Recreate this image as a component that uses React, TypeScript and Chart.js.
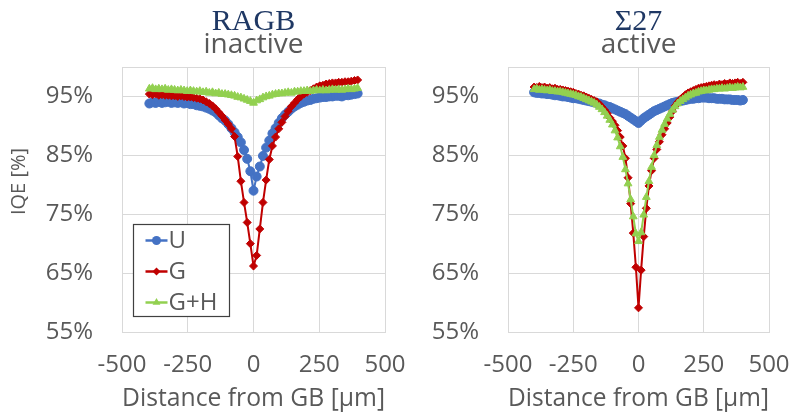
import React, { useEffect, useRef } from 'react';
import { Chart, registerables } from 'chart.js';

Chart.register(...registerables);

// ---------- data ----------
const seriesNames = ['U', 'G', 'G+H'];
const xTicks = [-500, -250, 0, 250, 500];
const yTicks = [55, 65, 75, 85, 95];

// RAGB (inactive) panel
const leftX = [-396, -384, -372, -360, -348, -336, -324, -312, -300, -288, -276, -264, -252, -240, -228, -216, -204, -192, -180, -168, -156, -144, -132, -120, -108, -96, -84, -72, -60, -48, -36, -24, -12, 0, 12, 24, 36, 48, 60, 72, 84, 96, 108, 120, 132, 144, 156, 168, 180, 192, 204, 216, 228, 240, 252, 264, 276, 288, 300, 312, 324, 336, 348, 360, 372, 384, 396];
const leftU = [93.8, 94.0, 93.9, 94.1, 93.9, 94.0, 94.1, 93.9, 94.0, 93.9, 94.0, 93.8, 93.9, 93.7, 93.7, 93.5, 93.4, 93.3, 93.1, 92.9, 92.6, 92.3, 91.8, 91.3, 90.9, 90.3, 89.6, 88.9, 88.1, 87.2, 85.9, 84.4, 82.3, 79.0, 81.4, 83.1, 84.9, 86.3, 87.5, 88.7, 89.6, 90.5, 91.3, 91.9, 92.4, 92.9, 93.3, 93.6, 93.9, 94.1, 94.3, 94.4, 94.6, 94.7, 94.8, 94.9, 94.9, 95.0, 95.0, 95.1, 95.1, 95.0, 95.2, 95.2, 95.3, 95.4, 95.5];
const leftG = [95.4, 95.3, 95.4, 95.2, 95.3, 95.2, 95.2, 95.1, 95.1, 95.0, 95.1, 95.0, 94.9, 94.9, 94.8, 94.7, 94.6, 94.4, 94.1, 93.8, 93.4, 92.9, 92.3, 91.7, 91.0, 90.3, 89.5, 88.2, 84.8, 80.6, 77.0, 73.6, 70.0, 66.2, 68.0, 72.5, 77.0, 80.8, 84.3, 86.6, 88.1, 89.5, 90.6, 91.6, 92.5, 93.3, 93.9, 94.5, 95.0, 95.4, 95.7, 96.0, 96.3, 96.6, 96.8, 96.9, 97.1, 97.2, 97.3, 97.3, 97.4, 97.4, 97.5, 97.5, 97.6, 97.7, 97.8];
const leftGH = [96.3, 96.4, 96.2, 96.3, 96.2, 96.3, 96.1, 96.2, 96.1, 96.0, 96.1, 96.0, 95.9, 96.0, 95.9, 95.8, 95.9, 95.7, 95.8, 95.6, 95.7, 95.5, 95.6, 95.4, 95.4, 95.3, 95.2, 95.1, 94.9, 94.8, 94.6, 94.4, 94.2, 93.9, 94.3, 94.5, 94.8, 95.0, 95.1, 95.3, 95.4, 95.5, 95.5, 95.6, 95.7, 95.6, 95.8, 95.8, 95.9, 95.9, 96.0, 95.9, 96.0, 96.1, 96.0, 96.1, 96.0, 96.1, 96.2, 96.1, 96.2, 96.1, 96.2, 96.3, 96.2, 96.3, 96.4];

// Σ27 (active) panel
const rightX = [-400, -390, -380, -370, -360, -350, -340, -330, -320, -310, -300, -290, -280, -270, -260, -250, -240, -230, -220, -210, -200, -190, -180, -170, -160, -150, -140, -130, -120, -110, -100, -90, -80, -70, -60, -50, -40, -30, -20, -10, 0, 10, 20, 30, 40, 50, 60, 70, 80, 90, 100, 110, 120, 130, 140, 150, 160, 170, 180, 190, 200, 210, 220, 230, 240, 250, 260, 270, 280, 290, 300, 310, 320, 330, 340, 350, 360, 370, 380, 390, 400];
const rightU = [95.7, 95.6, 95.6, 95.5, 95.5, 95.4, 95.4, 95.3, 95.2, 95.2, 95.1, 95.0, 95.0, 94.9, 94.8, 94.7, 94.7, 94.6, 94.5, 94.4, 94.3, 94.2, 94.1, 94.0, 93.9, 93.8, 93.6, 93.5, 93.3, 93.2, 93.0, 92.8, 92.6, 92.4, 92.2, 92.0, 91.7, 91.4, 91.1, 90.8, 90.5, 90.9, 91.3, 91.6, 91.9, 92.2, 92.5, 92.7, 92.9, 93.1, 93.3, 93.5, 93.7, 93.9, 94.0, 94.1, 94.2, 94.3, 94.4, 94.5, 94.6, 94.6, 94.7, 94.7, 94.8, 94.8, 94.8, 94.7, 94.7, 94.7, 94.6, 94.6, 94.6, 94.5, 94.5, 94.5, 94.4, 94.4, 94.4, 94.3, 94.4];
const rightG = [96.6, 96.5, 96.7, 96.5, 96.6, 96.4, 96.5, 96.3, 96.4, 96.2, 96.2, 96.1, 96.0, 95.9, 95.8, 95.7, 95.5, 95.4, 95.2, 95.1, 94.9, 94.7, 94.5, 94.3, 94.1, 93.7, 93.2, 92.7, 92.1, 91.4, 90.8, 90.1, 89.2, 88.1, 86.6, 84.5, 81.2, 76.8, 71.8, 66.0, 59.1, 65.5, 71.2, 76.0, 79.8, 82.4, 84.5, 86.0, 87.3, 88.5, 89.5, 90.5, 91.5, 92.5, 93.4, 94.0, 94.5, 94.9, 95.3, 95.6, 95.8, 96.0, 96.2, 96.4, 96.5, 96.6, 96.7, 96.8, 96.9, 97.0, 96.9, 97.1, 97.0, 97.2, 97.1, 97.3, 97.2, 97.3, 97.4, 97.2, 97.4];
const rightGH = [96.2, 96.3, 96.1, 96.2, 96.1, 96.0, 96.1, 95.9, 95.9, 95.8, 95.8, 95.7, 95.6, 95.5, 95.4, 95.3, 95.2, 95.0, 94.9, 94.7, 94.5, 94.3, 94.1, 93.9, 93.6, 93.2, 92.8, 92.3, 91.7, 91.0, 90.2, 89.2, 88.0, 86.5, 84.7, 82.6, 80.2, 77.5, 74.6, 71.7, 70.4, 71.9, 74.9, 77.9, 80.6, 83.0, 85.0, 86.7, 88.1, 89.3, 90.3, 91.2, 92.0, 92.7, 93.3, 93.8, 94.2, 94.5, 94.8, 95.1, 95.3, 95.5, 95.6, 95.8, 95.9, 96.0, 96.0, 96.1, 96.2, 96.2, 96.3, 96.3, 96.4, 96.3, 96.4, 96.5, 96.4, 96.5, 96.6, 96.5, 96.6];

// ---------- styles ----------
const BLUE = '#4472C4';
const RED = '#C00000';
const GREEN = '#92D050';
const GRID = '#D9D9D9';
const TEXT = '#595959';
const NAVY = '#1F3864';
const SANS = "'Open Sans', 'DejaVu Sans', sans-serif";
const SERIF = "'Liberation Serif', 'DejaVu Serif', serif";

Chart.defaults.font.family = SANS;

function pts(xs: number[], ys: number[]) {
  return xs.map((x, i) => ({ x, y: ys[i] }));
}

function drawMarker(ctx: CanvasRenderingContext2D, style: string, cx: number, cy: number, r: number) {
  ctx.beginPath();
  if (style === 'circle') {
    ctx.arc(cx, cy, r, 0, Math.PI * 2);
  } else if (style === 'rectRot') {
    ctx.moveTo(cx, cy - r);
    ctx.lineTo(cx + r, cy);
    ctx.lineTo(cx, cy + r);
    ctx.lineTo(cx - r, cy);
    ctx.closePath();
  } else {
    ctx.moveTo(cx, cy - r);
    ctx.lineTo(cx + r * 0.866, cy + r * 0.5);
    ctx.lineTo(cx - r * 0.866, cy + r * 0.5);
    ctx.closePath();
  }
  ctx.fill();
}

const framePlugin = {
  id: 'frame',
  beforeDatasetsDraw(chart: any) {
    const { ctx, chartArea } = chart;
    ctx.save();
    ctx.strokeStyle = GRID;
    ctx.lineWidth = 1;
    ctx.strokeRect(Math.round(chartArea.left) + 0.5, Math.round(chartArea.top) + 0.5, Math.round(chartArea.right - chartArea.left), Math.round(chartArea.bottom - chartArea.top));
    ctx.restore();
  },
};

// rotated y-axis title, drawn a little above the middle of the plot as in the source figure
const yTitlePlugin = {
  id: 'yTitle',
  afterDraw(chart: any, _args: any, opts: any) {
    if (!opts || !opts.text) return;
    const { ctx, chartArea } = chart;
    ctx.save();
    ctx.translate(19, (chartArea.top + chartArea.bottom) / 2 - 18);
    ctx.rotate(-Math.PI / 2);
    ctx.fillStyle = TEXT;
    ctx.font = `20px ${SANS}`;
    ctx.textAlign = 'center';
    ctx.textBaseline = 'middle';
    ctx.fillText(opts.text, 0, 0);
    ctx.restore();
  },
};

const boxLegendPlugin = {
  id: 'boxLegend',
  afterDatasetsDraw(chart: any, _args: any, opts: any) {
    if (!opts || !opts.display) return;
    const { ctx, chartArea } = chart;
    const left = Math.round(chartArea.left + 11) + 0.5;
    const top = Math.round(chartArea.top + 157) + 0.5;
    const w = 96;
    const h = 92;
    ctx.save();
    ctx.fillStyle = '#FFFFFF';
    ctx.fillRect(left, top, w, h);
    ctx.strokeStyle = '#404040';
    ctx.lineWidth = 1.2;
    ctx.strokeRect(left, top, w, h);
    const rows = [16, 47, 78];
    chart.data.datasets.forEach((ds: any, i: number) => {
      const cy = top + rows[i];
      ctx.strokeStyle = ds.borderColor;
      ctx.lineWidth = 2.5;
      ctx.beginPath();
      ctx.moveTo(left + 12, cy);
      ctx.lineTo(left + 34, cy);
      ctx.stroke();
      ctx.fillStyle = ds.borderColor;
      drawMarker(ctx, ds.pointStyle, left + 23, cy, ds.pointRadius);
      ctx.fillStyle = TEXT;
      ctx.font = `24px ${SANS}`;
      ctx.textBaseline = 'middle';
      ctx.textAlign = 'left';
      ctx.fillText(ds.label, left + 35, cy + 1);
    });
    ctx.restore();
  },
};

interface PanelProps {
  left: number;
  width: number;
  title: string;
  subtitle: string;
  xs: number[];
  u: number[];
  g: number[];
  gh: number[];
  axisWidth: number;
  padRight: number;
  yTitle: string;
  legend: boolean;
}

function Panel(p: PanelProps) {
  const ref = useRef<HTMLCanvasElement>(null);
  useEffect(() => {
    if (!ref.current) return;
    const common = { borderWidth: 2, pointBorderWidth: 1, pointHoverRadius: 4 };
    const chart = new Chart(ref.current, {
      type: 'line',
      data: {
        datasets: [
          { ...common, label: seriesNames[0], data: pts(p.xs, p.u), borderColor: BLUE, backgroundColor: BLUE, pointBackgroundColor: BLUE, pointBorderColor: BLUE, pointStyle: 'circle', pointRadius: 4.5, order: 3 },
          { ...common, label: seriesNames[1], data: pts(p.xs, p.g), borderColor: RED, backgroundColor: RED, pointBackgroundColor: RED, pointBorderColor: RED, pointStyle: 'rectRot', pointRadius: 4, order: 2 },
          { ...common, label: seriesNames[2], data: pts(p.xs, p.gh), borderColor: GREEN, backgroundColor: GREEN, pointBackgroundColor: GREEN, pointBorderColor: GREEN, pointStyle: 'triangle', pointRadius: 4.5, order: 1 },
        ] as any,
      },
      options: {
        responsive: false,
        animation: false,
        events: [],
        layout: { padding: { left: 0, right: p.padRight, top: 0, bottom: 0 } },
        plugins: {
          legend: { display: false },
          tooltip: { enabled: false },
          title: {
            display: true,
            text: p.title,
            fullSize: false,
            color: NAVY,
            font: { family: SERIF, size: 30, weight: 'normal', lineHeight: 1 },
            padding: { top: 7.5, bottom: 0 },
          },
          subtitle: {
            display: true,
            text: p.subtitle,
            fullSize: false,
            color: TEXT,
            font: { family: SANS, size: 28, weight: 'normal', lineHeight: 0.5 },
            padding: { top: 0.5, bottom: 15 },
          },
          boxLegend: { display: p.legend },
          yTitle: { text: p.yTitle },
        } as any,
        scales: {
          x: {
            type: 'linear',
            min: -500,
            max: 500,
            afterBuildTicks: (scale: any) => { scale.ticks = xTicks.map((v) => ({ value: v })); },
            afterFit: (scale: any) => { scale.height = 84; },
            grid: { color: GRID, drawTicks: true, tickLength: 19, tickColor: 'rgba(0,0,0,0)', lineWidth: 1 },
            border: { display: false },
            ticks: { color: TEXT, font: { size: 24 }, padding: 0, callback: (v: any) => String(v), maxRotation: 0 },
            title: { display: true, text: 'Distance from GB [µm]', color: TEXT, font: { size: 25 }, padding: { top: 0, bottom: 2 } },
          },
          y: {
            type: 'linear',
            min: 55,
            max: 100,
            afterBuildTicks: (scale: any) => { scale.ticks = yTicks.map((v) => ({ value: v })); },
            afterFit: (scale: any) => { scale.width = p.axisWidth; },
            grid: { color: GRID, drawTicks: false, lineWidth: 1 },
            border: { display: false },
            ticks: { color: TEXT, font: { size: 24 }, padding: 29, callback: (v: any) => v + '%' },
          },
        } as any,
      },
      plugins: [framePlugin, boxLegendPlugin, yTitlePlugin],
    } as any);
    return () => chart.destroy();
  }, []);
  return (
    <canvas
      ref={ref}
      width={p.width}
      height={416}
      style={{ position: 'absolute', left: p.left, top: 0, width: p.width, height: 416 }}
    />
  );
}

export default function App() {
  return (
    <div style={{ position: 'absolute', left: 0, top: 0, width: 795, height: 416, background: '#FFFFFF', overflow: 'hidden' }}>
      <Panel left={0} width={410} title="RAGB" subtitle="inactive" xs={leftX} u={leftU} g={leftG} gh={leftGH} axisWidth={122} padRight={25} yTitle="IQE [%]" legend={true} />
      <Panel left={410} width={385} title="Σ27" subtitle="active" xs={rightX} u={rightU} g={rightG} gh={rightGH} axisWidth={98} padRight={26} yTitle="" legend={false} />
    </div>
  );
}
